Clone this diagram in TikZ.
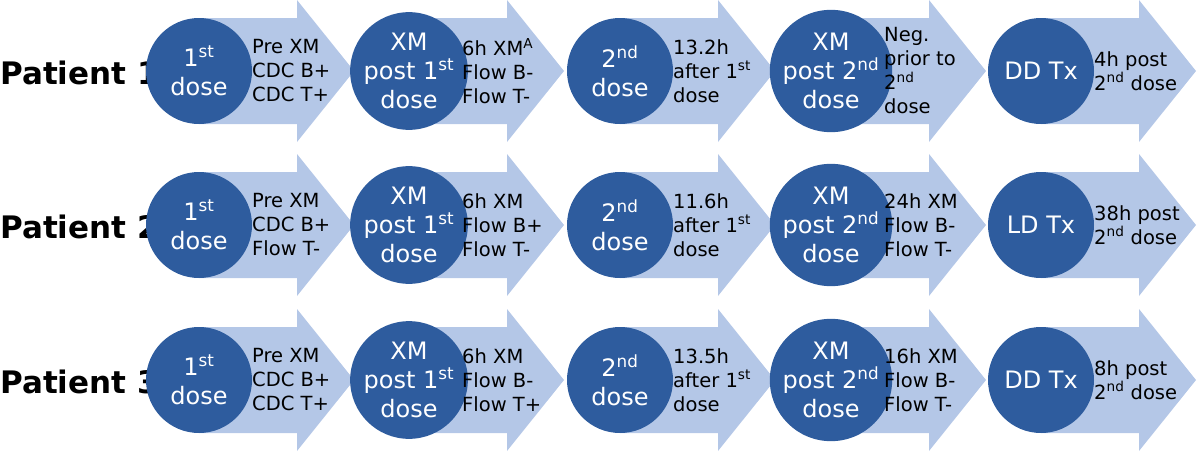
\documentclass[tikz,border=0pt]{standalone}
\usepackage{fontspec}
\setmainfont{DejaVu Sans}
\definecolor{dk}{HTML}{2E5C9E}
\definecolor{lt}{HTML}{B4C7E7}
\begin{document}
\begin{tikzpicture}[x=1pt,y=-1pt,
  circ/.style={circle,fill=dk,minimum size=106pt,inner sep=0pt,text=white,align=center,font=\fontsize{24}{29}\selectfont},
  lbl/.style={anchor=west,align=left,font=\fontsize{19.5}{24}\selectfont,inner sep=0pt},
  pat/.style={anchor=west,font=\bfseries\fontsize{31}{34}\selectfont,inner sep=0pt}]
\useasboundingbox (0,0) rectangle (1200,453);
\newcommand\stepA[4]{% cx, cy, circle text, label text
  \fill[lt] (#1,#2-53) -- (#1+98,#2-53) -- (#1+98,#2-71) -- (#1+155,#2) -- (#1+98,#2+71) -- (#1+98,#2+53) -- (#1,#2+53) -- cycle;
  \node[circ] at (#1,#2) {#3};
  \node[lbl] at (#1+53,#2) {#4};}
\newcommand\sq[1]{\textsuperscript{#1}}
% row 1
\node[pat] (p1) at (0,73) {Patient 1};
\stepA{199}{71}{1\sq{st}\\dose}{Pre XM\\CDC B+\\CDC T+}
\stepA{409}{71}{XM\\post 1\sq{st}\\dose}{6h XM\sq{A}\\Flow B-\\Flow T-}
\stepA{620}{71}{2\sq{nd}\\dose}{13.2h\\after 1\sq{st}\\dose}
\stepA{831}{71}{XM\\post 2\sq{nd}\\dose}{Neg.\\prior to\\2\sq{nd}\\dose}
\stepA{1041}{71}{DD Tx}{4h post\\2\sq{nd} dose}
% row 2
\node[pat] (p2) at (0,227) {Patient 2};
\stepA{199}{225}{1\sq{st}\\dose}{Pre XM\\CDC B+\\Flow T-}
\stepA{409}{225}{XM\\post 1\sq{st}\\dose}{6h XM\\Flow B+\\Flow T-}
\stepA{620}{225}{2\sq{nd}\\dose}{11.6h\\after 1\sq{st}\\dose}
\stepA{831}{225}{XM\\post 2\sq{nd}\\dose}{24h XM\\Flow B-\\Flow T-}
\stepA{1041}{225}{LD Tx}{38h post\\2\sq{nd} dose}
% row 3
\node[pat] (p3) at (0,382) {Patient 3};
\stepA{199}{380}{1\sq{st}\\dose}{Pre XM\\CDC B+\\CDC T+}
\stepA{409}{380}{XM\\post 1\sq{st}\\dose}{6h XM\\Flow B-\\Flow T+}
\stepA{620}{380}{2\sq{nd}\\dose}{13.5h\\after 1\sq{st}\\dose}
\stepA{831}{380}{XM\\post 2\sq{nd}\\dose}{16h XM\\Flow B-\\Flow T-}
\stepA{1041}{380}{DD Tx}{8h post\\2\sq{nd} dose}
\end{tikzpicture}
\end{document}
